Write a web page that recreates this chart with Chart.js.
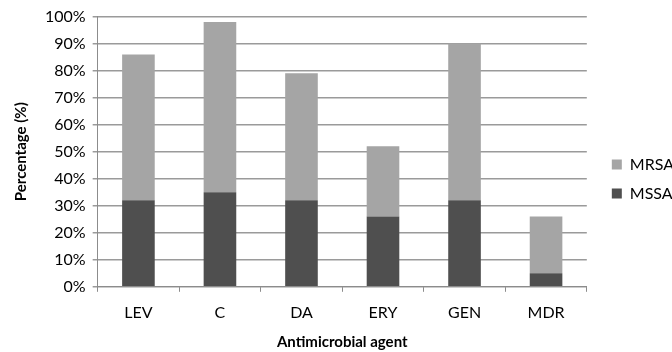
<!DOCTYPE html>
<html>
<head>
<meta charset="utf-8">
<script src="https://cdn.jsdelivr.net/npm/chart.js@4.4.1/dist/chart.umd.min.js"></script>
<style>
  html, body { margin: 0; padding: 0; background: #fff; }
  #wrap { width: 672px; height: 352px; }
</style>
</head>
<body>
<div id="wrap"><canvas id="grafico" width="672" height="352"></canvas></div>
<script>
const agentes = ['LEV', 'C', 'DA', 'ERY', 'GEN', 'MDR'];
const mssa = [32, 35, 32, 26, 32, 5];
const mrsa = [54, 63, 47, 26, 58, 21];

const fonte = 'Lato';

// empurra a legenda um pouco para a direita, como no original
const legendaDireita = {
    id: 'legendaDireita',
    afterLayout(chart) {
        chart.legend.left += 12;
        chart.legend.right += 12;
    }
};

new Chart(document.getElementById('grafico'), {
    type: 'bar',
    data: {
        labels: agentes,
        datasets: [
            {
                label: 'MSSA',
                data: mssa,
                backgroundColor: '#4f4f4f',
                categoryPercentage: 1,
                barPercentage: 0.4
            },
            {
                label: 'MRSA',
                data: mrsa,
                backgroundColor: '#a5a5a5',
                categoryPercentage: 1,
                barPercentage: 0.4
            }
        ]
    },
    options: {
        responsive: false,
        animation: false,
        layout: {
            padding: { top: 7, left: 12, right: 0, bottom: 1 }
        },
        scales: {
            x: {
                stacked: true,
                grid: {
                    offset: true,
                    drawOnChartArea: false,
                    color: '#8c8c8c',
                    tickLength: 5
                },
                border: { color: '#8c8c8c' },
                ticks: {
                    color: '#000',
                    padding: 11,
                    font: { family: fonte, size: 16 }
                },
                title: {
                    display: true,
                    text: 'Antimicrobial agent',
                    color: '#000',
                    font: { family: fonte, size: 15, weight: 'bold' },
                    padding: { top: 0, bottom: 0 }
                }
            },
            y: {
                stacked: true,
                min: 0,
                max: 100,
                ticks: {
                    stepSize: 10,
                    color: '#000',
                    padding: 7,
                    font: { family: fonte, size: 16 },
                    callback: v => v + '%'
                },
                grid: {
                    color: '#9a9a9a',
                    lineWidth: 1.5,
                    tickLength: 5
                },
                border: { color: '#8c8c8c' },
                title: {
                    display: true,
                    text: 'Percentage (%)',
                    color: '#000',
                    font: { family: fonte, size: 15, weight: 'bold' },
                    padding: { top: 0, bottom: 8 }
                }
            }
        },
        plugins: {
            legend: {
                display: true,
                position: 'right',
                reverse: true,
                labels: {
                    boxWidth: 10,
                    boxHeight: 10,
                    padding: 13,
                    color: '#000',
                    font: { family: fonte, size: 16 }
                }
            },
            tooltip: { enabled: false }
        }
    },
    plugins: [legendaDireita]
});
</script>
</body>
</html>
